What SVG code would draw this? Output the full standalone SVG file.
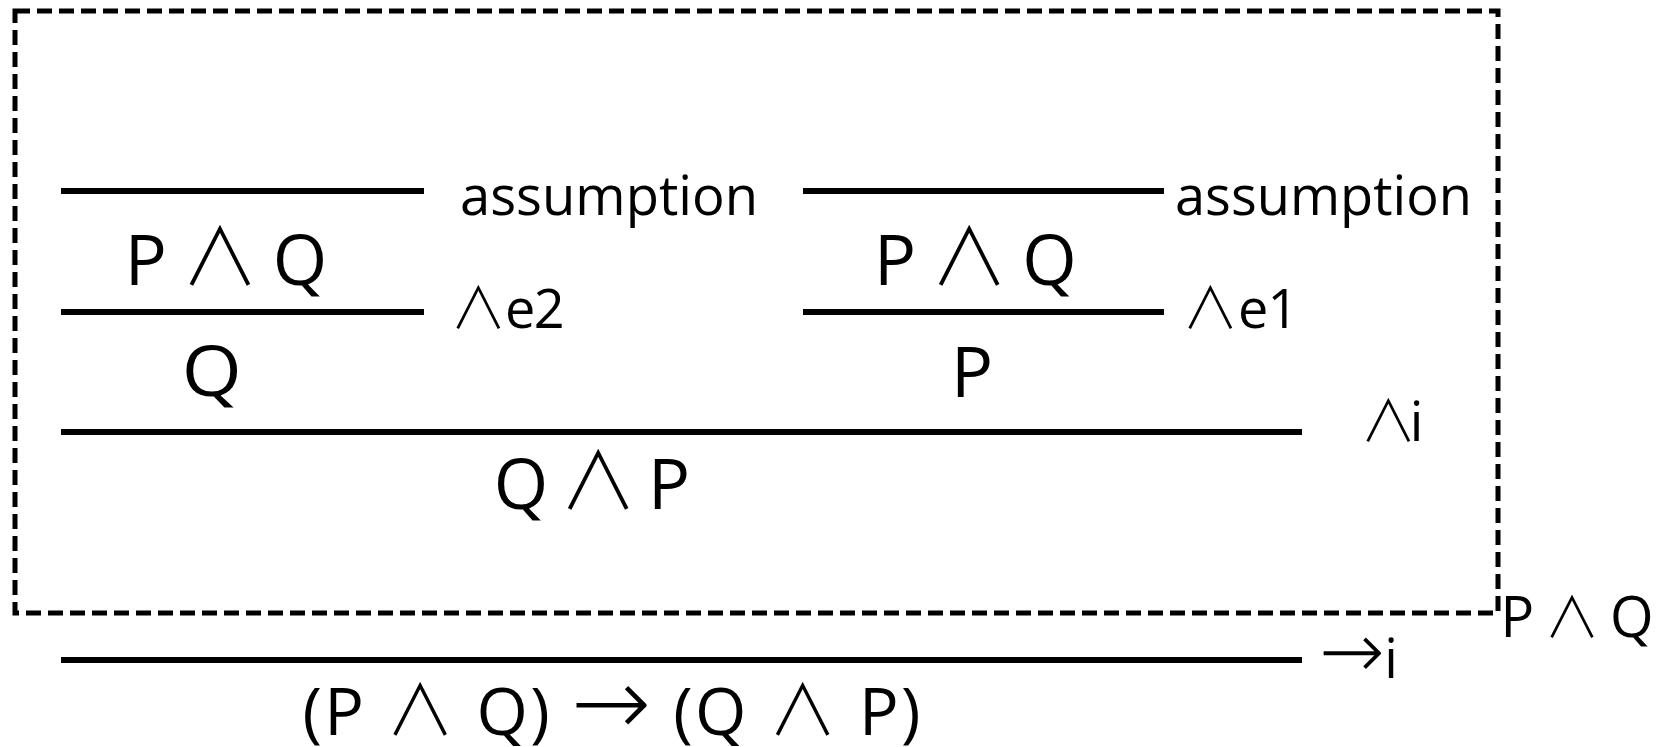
<svg xmlns="http://www.w3.org/2000/svg" width="1657" height="747" viewBox="0 0 1657 747">
<style>
.t{font-family:"Open Sans","DejaVu Sans",sans-serif;fill:#000}
.f{font-size:70px}
.l{font-size:54px}
.g{font-size:66px}
.a{font-family:"Noto Sans CJK JP","Noto Sans CJK SC","DejaVu Sans",sans-serif;font-size:1.05em;font-weight:300}
.af{font-family:"Noto Sans CJK JP","Noto Sans CJK SC","DejaVu Sans",sans-serif;font-size:1.12em;font-weight:300}
.w{font-family:"DejaVu Sans",sans-serif;font-weight:200;font-size:1.45em}
.bar{stroke:#000;stroke-width:6;fill:none}
.box{stroke:#000;stroke-width:5;fill:none;stroke-dasharray:15 7}
</style>
<rect width="1657" height="747" fill="#fff"/>
<g id="box-scope">
<rect class="box" x="15" y="11" width="1483" height="602"/>
<text class="t" style="font-size:56px" x="1500.5" y="637" textLength="153" lengthAdjust="spacing">P <tspan class="af" style="font-size:1em">∧</tspan> Q</text>
</g>
<g id="connectors">
<line class="bar" x1="61" y1="191" x2="424" y2="191"/>
<line class="bar" x1="61" y1="312" x2="424" y2="312"/>
<line class="bar" x1="803" y1="191" x2="1164" y2="191"/>
<line class="bar" x1="803" y1="312" x2="1164" y2="312"/>
<line class="bar" x1="61" y1="432" x2="1302" y2="432"/>
<line class="bar" x1="61" y1="660" x2="1302" y2="660"/>
</g>
<g id="rule-labels">
<text class="t l" x="460" y="215" textLength="298" lengthAdjust="spacingAndGlyphs">assumption</text>
<text class="t l" x="1175" y="215" textLength="297" lengthAdjust="spacingAndGlyphs">assumption</text>
<text class="t l" x="450" y="328" textLength="114.7" lengthAdjust="spacing"><tspan class="a">∧</tspan>e2</text>
<text class="t l" x="1182" y="328" textLength="116.5" lengthAdjust="spacing"><tspan class="a">∧</tspan>e1</text>
<text class="t l" x="1360" y="441" textLength="63.3" lengthAdjust="spacing"><tspan class="a">∧</tspan>i</text>
<text class="t l" x="1319" y="678" textLength="79" lengthAdjust="spacing"><tspan class="w">→</tspan>i</text>
</g>
<g id="node-pq-left"><text class="t f" x="124.8" y="285" textLength="202.5" lengthAdjust="spacing">P <tspan class="af">∧</tspan> Q</text></g>
<g id="node-pq-right"><text class="t f" x="874" y="285" textLength="202.8" lengthAdjust="spacing">P <tspan class="af">∧</tspan> Q</text></g>
<g id="node-q"><text class="t f" x="181.7" y="396" textLength="60" lengthAdjust="spacingAndGlyphs">Q</text></g>
<g id="node-p"><text class="t f" x="951" y="397">P</text></g>
<g id="node-qp"><text class="t f" x="493.7" y="509" textLength="196.5" lengthAdjust="spacing">Q <tspan class="af">∧</tspan> P</text></g>
<g id="node-goal"><text class="t g" x="302.4" y="735" textLength="618" lengthAdjust="spacing">(P <tspan class="a">∧</tspan> Q) <tspan class="w">→</tspan> (Q <tspan class="a">∧</tspan> P)</text></g>
</svg>
